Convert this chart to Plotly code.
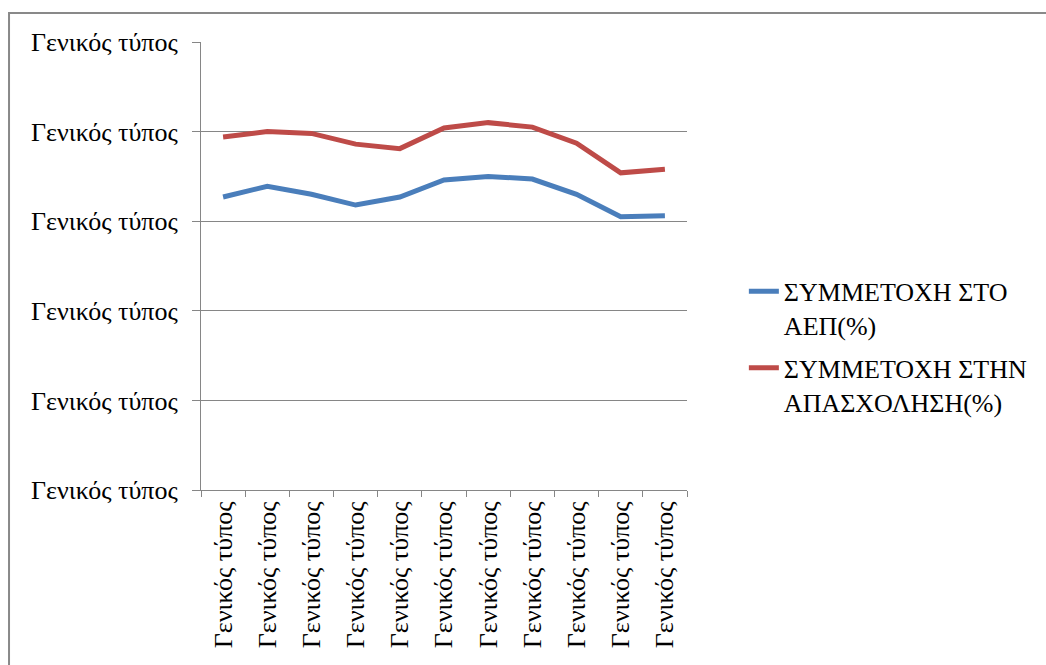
import plotly.graph_objects as go

# Categories (all cells formatted as "General")
categories = [f"c{i}" for i in range(1, 12)]
category_labels = ["Γενικός τύπος"] * 11

# Series values
gdp_share = [32.7, 33.9, 33.0, 31.8, 32.7, 34.6, 35.0, 34.7, 33.0, 30.5, 30.6]
employment_share = [39.4, 40.0, 39.8, 38.6, 38.1, 40.4, 41.0, 40.5, 38.7, 35.4, 35.8]

# Y axis ticks
y_tickvals = [0, 10, 20, 30, 40, 50]
y_ticktext = ["Γενικός τύπος"] * 6

FONT = "'Liberation Serif', 'DejaVu Serif', serif"
FS = 26
GRID = "#868686"

fig = go.Figure()
fig.add_trace(go.Scatter(
    x=categories, y=gdp_share, mode="lines",
    name="ΣΥΜΜΕΤΟΧΗ ΣΤΟ<br>ΑΕΠ(%)", legendgroup="gdp",
    line=dict(color="#4A7EBB", width=5),
))
fig.add_trace(go.Scatter(
    x=categories, y=employment_share, mode="lines",
    name="ΣΥΜΜΕΤΟΧΗ ΣΤΗΝ<br>ΑΠΑΣΧΟΛΗΣΗ(%)", legendgroup="emp",
    line=dict(color="#BE4B48", width=5),
))

fig.update_layout(
    width=1046, height=665,
    margin=dict(l=201, r=359, t=42, b=175),
    paper_bgcolor="white", plot_bgcolor="white",
    font=dict(family=FONT, size=FS, color="black"),
    showlegend=True,
    legend=dict(
        x=1.117, xanchor="left", y=0.496, yanchor="top",
        valign="top", tracegroupgap=6,
        font=dict(family=FONT, size=FS, color="black"),
        bgcolor="rgba(0,0,0,0)",
    ),
    xaxis=dict(
        type="category", categoryorder="array", categoryarray=categories,
        tickvals=categories, ticktext=category_labels,
        tickangle=-90, tickson="boundaries",
        ticks="outside", ticklen=6, tickcolor=GRID, tickwidth=1,
        showline=True, linecolor=GRID, linewidth=1,
        showgrid=False, zeroline=False,
        range=[-0.5, 10.5],
        tickfont=dict(family=FONT, size=FS, color="black"),
    ),
    yaxis=dict(
        range=[0, 50], tickvals=y_tickvals, ticktext=y_ticktext,
        ticks="outside", ticklen=8, tickcolor=GRID, tickwidth=1,
        ticklabelstandoff=9,
        showline=True, linecolor=GRID, linewidth=1,
        showgrid=True, gridcolor=GRID, gridwidth=1,
        zeroline=False,
        tickfont=dict(family=FONT, size=FS, color="black"),
    ),
    shapes=[
        # chart area border
        dict(type="rect", xref="paper", yref="paper",
             x0=-0.395, x1=1.9, y0=-0.5, y1=1.0647,
             line=dict(color="#898989", width=2), fillcolor="rgba(0,0,0,0)",
             layer="below"),
    ],
)

fig.write_html("out.html")
